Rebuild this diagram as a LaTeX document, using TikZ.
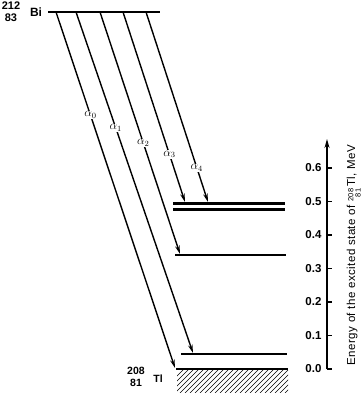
\documentclass[tikz,border=0pt]{standalone}
\usepackage{fontspec}
\setmainfont{Liberation Sans}
\newfontfamily\axfont{Liberation Sans}[LetterSpace=4]
\usetikzlibrary{arrows.meta}
\usetikzlibrary{calc}

\begin{document}
\begin{tikzpicture}[x=1pt,y=-1pt,
   level/.style={line width=2.5pt},
   decay/.style={-{Stealth[length=8.5pt,width=4.5pt]},line width=1.4pt},
   alab/.style={fill=white,inner sep=0.6pt,font=\large},
   axis/.style={-{Stealth[length=9pt,width=5pt]},line width=1.4pt},
   nuc/.style={font=\bfseries\fontsize{11}{11.5}\selectfont,inner sep=0pt,align=center}]
   \useasboundingbox (0,0) rectangle (362,393);
   % parent and daughter levels
   \coordinate (bi) at (48,12);
   \coordinate (l4) at (173,203.5);
   \coordinate (l3) at (173,209.5);
   \coordinate (l2) at (175,255);
   \coordinate (l1) at (181,354);
   \coordinate (l0) at (176,369);
   \draw[level] (bi) -- ++(112,0);
   \draw[level] (l4) -- ++(112,0);
   \draw[level] (l3) -- ++(112,0);
   \draw[level] (l2) -- ++(111,0);
   \draw[level] (l1) -- ++(106,0);
   \draw[level,line width=2.9pt] (l0) -- ++(112,0);
   % hatching under ground state
   \begin{scope}
     \clip (177,370.5) rectangle (288,393);
     \foreach \x in {160,165,...,290}
       \draw[line width=0.6pt] (\x,393) -- ++(24,-24);
   \end{scope}
   \node[nuc] (bimass) at (11,11.5) {212\\83};
   \node[nuc,font=\bfseries\fontsize{12}{12}\selectfont] (bisym) at (36,12.5) {Bi};
   \node[nuc,font=\bfseries\fontsize{10.5}{11.5}\selectfont] (tlmass) at (136,377) {208\\81};
   \node[nuc,font=\bfseries\fontsize{10.5}{11.5}\selectfont] (tlsym) at (158,379) {Tl};
   % alpha transitions
   \coordinate (s0) at (56,12);  \coordinate (e0) at (175,368);
   \coordinate (s1) at (76,12);  \coordinate (e1) at (193,353);
   \coordinate (s2) at (100,12); \coordinate (e2) at (180,254);
   \coordinate (s3) at (123,12); \coordinate (e3) at (185,202);
   \coordinate (s4) at (146,12); \coordinate (e4) at (208,202);
   \draw[decay] (s0) -- node[alab,pos=0.29] {$\alpha_0$} (e0);
   \draw[decay] (s1) -- node[alab,pos=0.34] {$\alpha_1$} (e1);
   \draw[decay] (s2) -- node[alab,pos=0.54] {$\alpha_2$} (e2);
   \draw[decay] (s3) -- node[alab,pos=0.75] {$\alpha_3$} (e3);
   \draw[decay] (s4) -- node[alab,pos=0.82] {$\alpha_4$} (e4);
   % energy axis
   \coordinate (ax0) at (327,369);
   \coordinate (axtop) at (327,139);
   \draw[axis] (ax0) -- (axtop);
   \foreach \k in {0,...,6}
     \draw[line width=1.1pt] ($(ax0)+(0,-33.5*\k)$) -- ++(4.5,0)
       node[pos=0,anchor=east,inner sep=0pt,xshift=-5pt,
            font=\bfseries\fontsize{11.5}{11}\selectfont] {0.\k};
   \node[rotate=90,anchor=base,inner sep=0pt,font=\axfont\fontsize{11.5}{12}\selectfont] (axlab) at (355,255)
     {Energy of the excited state of
      \raisebox{-0.35ex}{\fontsize{7.5}{7}\selectfont\begin{tabular}{@{}r@{}}208\\81\end{tabular}}\,Tl, MeV};
\end{tikzpicture}
\end{document}
